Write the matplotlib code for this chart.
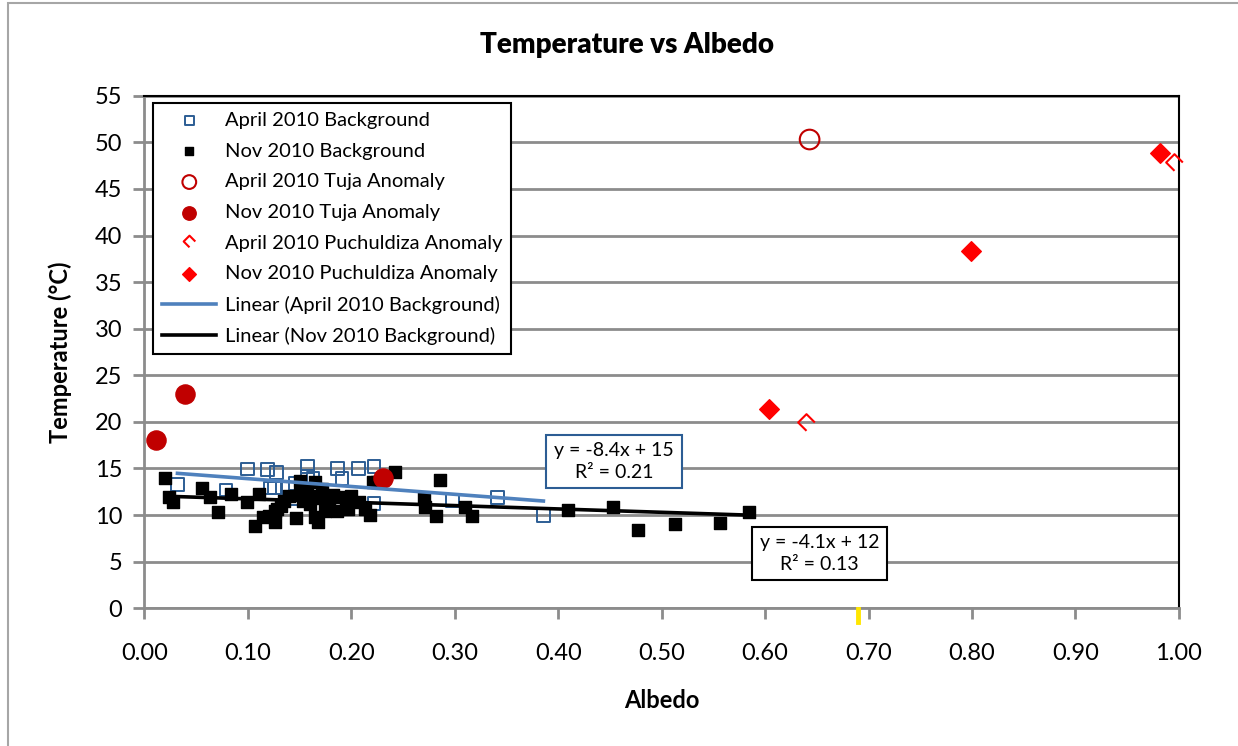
import numpy as np
import matplotlib.pyplot as plt
from matplotlib.path import Path
from matplotlib.patches import Rectangle

plt.rcParams['font.family'] = ['Lato', 'DejaVu Sans']

# April 2010 background (albedo, temperature)
apr_bg_x = [0.032, 0.079, 0.0995, 0.119, 0.128, 0.1215, 0.126, 0.139, 0.1425, 0.1457,
            0.158, 0.158, 0.163, 0.1865, 0.191, 0.207, 0.222, 0.222, 0.2977, 0.3415, 0.3857]
apr_bg_y = [13.3, 12.7, 14.95, 14.85, 14.6, 12.9, 12.9, 12.9, 11.8, 13.4,
            15.2, 14.1, 13.95, 15.0, 13.95, 15.0, 15.2, 11.25, 11.6, 11.9, 9.95]

# Nov 2010 background
nov_bg_x = [0.020, 0.024, 0.028, 0.0555, 0.0635, 0.0715, 0.0835, 0.099, 0.107, 0.111,
            0.115, 0.120, 0.126, 0.126, 0.128, 0.132, 0.135, 0.140, 0.147, 0.150,
            0.150, 0.153, 0.157, 0.160, 0.163, 0.165, 0.165, 0.168, 0.170, 0.172,
            0.175, 0.178, 0.182, 0.186, 0.190, 0.195, 0.197, 0.200, 0.207, 0.213,
            0.218, 0.221, 0.2245, 0.242, 0.270, 0.271, 0.282, 0.286, 0.310, 0.317,
            0.409, 0.453, 0.477, 0.513, 0.556, 0.584]
nov_bg_y = [14.0, 11.95, 11.45, 12.9, 11.9, 10.3, 12.3, 11.45, 8.85, 12.3,
            9.8, 9.85, 10.4, 9.3, 10.7, 11.0, 11.5, 12.0, 9.65, 13.7,
            12.3, 11.5, 12.8, 11.2, 12.0, 13.6, 9.8, 9.3, 11.8, 12.8,
            10.4, 11.3, 12.2, 10.4, 11.9, 11.0, 10.7, 12.0, 11.45, 10.7,
            10.0, 13.6, 13.5, 14.6, 11.8, 10.9, 9.85, 13.75, 10.85, 9.95,
            10.55, 10.9, 8.45, 9.0, 9.1, 10.3]

# anomalies
apr_tuja_x = [0.643]
apr_tuja_y = [50.3]
nov_tuja_x = [0.011, 0.039, 0.231]
nov_tuja_y = [18.05, 23.0, 13.95]
apr_puch_x = [0.640, 0.995]
apr_puch_y = [20.0, 47.9]
nov_puch_x = [0.604, 0.799, 0.982]
nov_puch_y = [21.4, 38.3, 48.9]

# trend lines (slope, intercept)
apr_fit = (-8.4, 14.75)
nov_fit = (-3.6, 12.1)
apr_eq = "y = -8.4x + 15\nR² = 0.21"
nov_eq = "y = -4.1x + 12\nR² = 0.13"

stray_tick_x = 0.69

fig = plt.figure(figsize=(12.38, 7.46), dpi=100)
fig.patches.append(Rectangle((8/1238, -0.1), 1.2, (743-(-75))/746, transform=fig.transFigure,
                             fill=False, edgecolor='#a6a6a6', lw=1.5))
ax = fig.add_axes([0.1166, 0.1846, 0.9523-0.1166, 0.8717-0.1846])

grid_c = '#8c8c8c'
blue_edge = '#2c5d94'
trend_blue = '#4f81bd'

ax.scatter(apr_bg_x, apr_bg_y, marker='s', s=85, facecolors='none', edgecolors=blue_edge,
           linewidths=1.4, label='April 2010 Background', zorder=3)
ax.scatter(nov_bg_x, nov_bg_y, marker='s', s=80, color='black', label='Nov 2010 Background', zorder=4)
ax.scatter(apr_tuja_x, apr_tuja_y, marker='o', s=200, facecolors='none', edgecolors='#c00000',
           linewidths=1.5, label='April 2010 Tuja Anomaly', zorder=5)
ax.scatter(nov_tuja_x, nov_tuja_y, marker='o', s=190, color='#c00000', label='Nov 2010 Tuja Anomaly', zorder=5)

open_diamond = Path([(0, -1), (-1, 0), (0, 1), (1, 0)])
ax.plot(apr_puch_x, apr_puch_y, ls='none', marker=open_diamond, ms=12, mfc='none', mec='#ff0000',
        mew=1.5, label='April 2010 Puchuldiza Anomaly', zorder=5, clip_on=False)
ax.scatter(nov_puch_x, nov_puch_y, marker='D', s=100, color='#ff0000', label='Nov 2010 Puchuldiza Anomaly', zorder=5)

xa = np.array([min(apr_bg_x), max(apr_bg_x)])
ax.plot(xa, apr_fit[0]*xa + apr_fit[1], color=trend_blue, lw=2.6, label='Linear (April 2010 Background)', zorder=6)
xn = np.array([min(nov_bg_x), max(nov_bg_x)])
ax.plot(xn, nov_fit[0]*xn + nov_fit[1], color='black', lw=2.6, label='Linear (Nov 2010 Background)', zorder=6)

ax.text(0.454, 15.75, apr_eq, ha='center', va='center', fontsize=14, linespacing=1.3,
        bbox=dict(boxstyle='square,pad=0.4', fc='white', ec=blue_edge, lw=1.5), zorder=7)
ax.text(0.6525, 5.88, nov_eq, ha='center', va='center', fontsize=14, linespacing=1.3,
        bbox=dict(boxstyle='square,pad=0.4', fc='white', ec='black', lw=1.5), zorder=7)

ax.plot([stray_tick_x, stray_tick_x], [-0.1, -1.5], color='#ffe600', lw=3.5, clip_on=False, zorder=8)

ax.set_xlim(0, 1.0)
ax.set_ylim(0, 55)
ax.set_xticks(np.arange(0, 1.01, 0.1))
ax.set_xticklabels([f'{v:.2f}' for v in np.arange(0, 1.01, 0.1)])
ax.set_yticks(np.arange(0, 56, 5))
ax.yaxis.grid(True, color=grid_c, lw=2)
ax.set_axisbelow(True)
ax.tick_params(axis='both', direction='out', length=8, width=2, color=grid_c, labelsize=17, pad=8)
ax.tick_params(axis='x', pad=17)
ax.spines['left'].set_color(grid_c)
ax.spines['bottom'].set_color(grid_c)
ax.spines['left'].set_linewidth(2)
ax.spines['bottom'].set_linewidth(2)
ax.spines['top'].set_color('black')
ax.spines['right'].set_color('black')
ax.spines['top'].set_linewidth(1.5)
ax.spines['right'].set_linewidth(1.5)

fig.text(627/1238, 1 - 45/746, 'Temperature vs Albedo', fontsize=20, fontweight='heavy',
         ha='center', va='center')
ax.set_xlabel('Albedo', fontsize=17, fontweight='bold', labelpad=18)
ax.set_ylabel('Temperature (°C)', fontsize=17, fontweight='bold', labelpad=16)

leg = ax.legend(loc='upper left', bbox_to_anchor=(0.0084, 0.9858), borderaxespad=0, fontsize=14.5,
                frameon=True, fancybox=False, edgecolor='black', framealpha=1, labelspacing=0.67,
                handlelength=2.7, handletextpad=0.4, borderpad=0.45, scatterpoints=1, markerscale=0.7)
leg.get_frame().set_linewidth(1.5)
leg.set_zorder(10)

fig.savefig('out.png', dpi=100)
